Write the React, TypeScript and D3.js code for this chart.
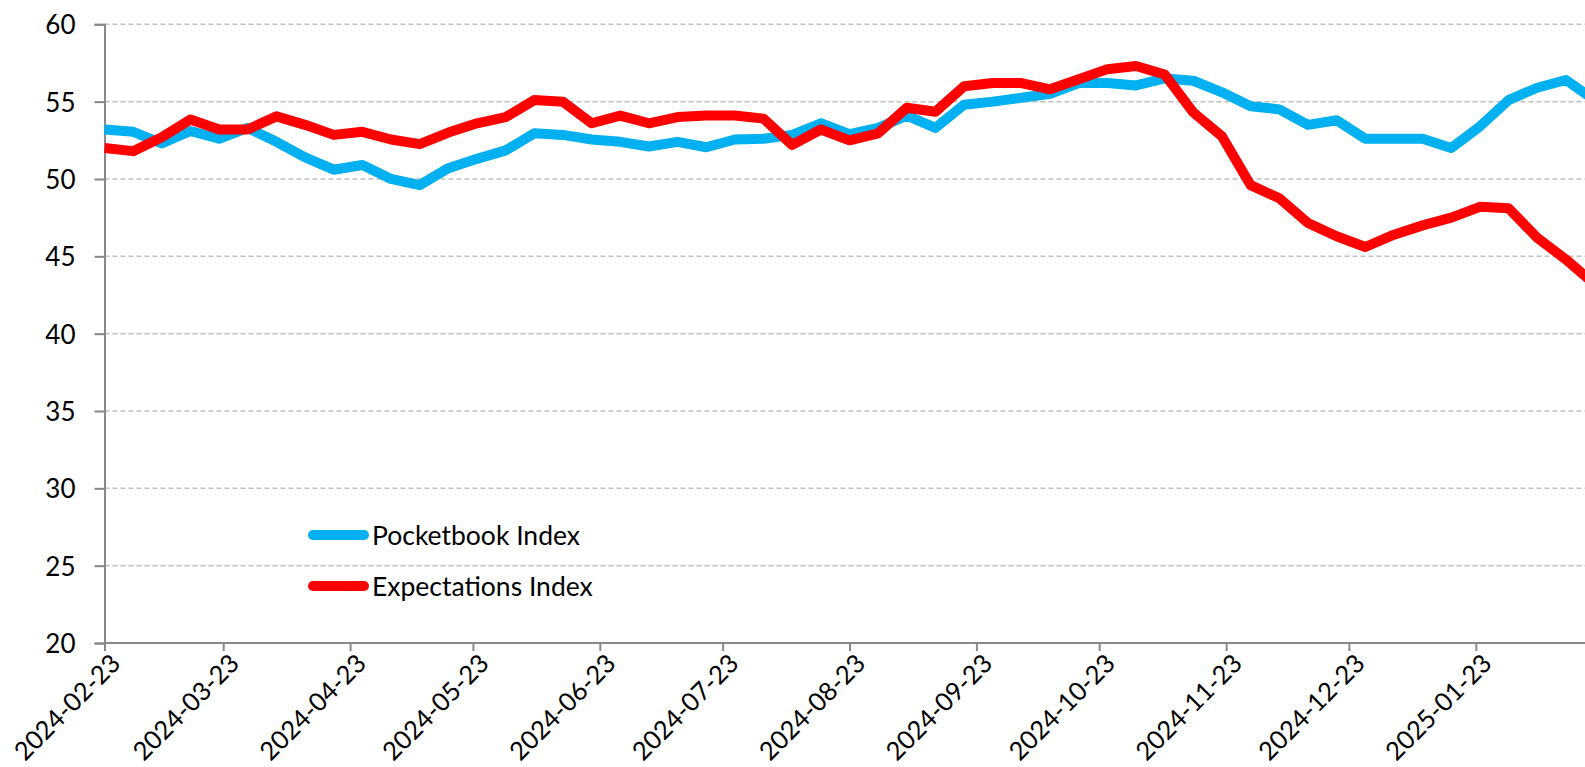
import React, { useRef, useEffect } from "react";
import * as d3 from "d3";

const dates = [
  "2024-02-23", "2024-03-01", "2024-03-08", "2024-03-15", "2024-03-22", "2024-03-29",
  "2024-04-05", "2024-04-12", "2024-04-19", "2024-04-26", "2024-05-03", "2024-05-10",
  "2024-05-17", "2024-05-24", "2024-05-31", "2024-06-07", "2024-06-14", "2024-06-21",
  "2024-06-28", "2024-07-05", "2024-07-12", "2024-07-19", "2024-07-26", "2024-08-02",
  "2024-08-09", "2024-08-16", "2024-08-23", "2024-08-30", "2024-09-06", "2024-09-13",
  "2024-09-20", "2024-09-27", "2024-10-04", "2024-10-11", "2024-10-18", "2024-10-25",
  "2024-11-01", "2024-11-08", "2024-11-15", "2024-11-22", "2024-11-29", "2024-12-06",
  "2024-12-13", "2024-12-20", "2024-12-27", "2025-01-03", "2025-01-10", "2025-01-17",
  "2025-01-24", "2025-01-31", "2025-02-07", "2025-02-14", "2025-02-21",
];

const pocketbook = [
  53.2, 53.05, 52.3, 53.1, 52.6, 53.3, 52.4, 51.4, 50.6, 50.9, 50.0, 49.6, 50.7,
  51.3, 51.85, 52.95, 52.85, 52.55, 52.4, 52.1, 52.4, 52.05, 52.55, 52.6, 52.85,
  53.6, 52.9, 53.3, 54.1, 53.3, 54.8, 55.0, 55.25, 55.5, 56.2, 56.2, 56.05, 56.5,
  56.35, 55.6, 54.7, 54.5, 53.5, 53.8, 52.6, 52.6, 52.6, 52.0, 53.4, 55.1, 55.9,
  56.4, 55.1,
];

const expectations = [
  52.0, 51.8, 52.7, 53.85, 53.2, 53.2, 54.05, 53.5, 52.85, 53.05, 52.55, 52.25, 53.0,
  53.6, 54.0, 55.1, 55.0, 53.6, 54.1, 53.6, 54.0, 54.1, 54.1, 53.9, 52.2, 53.2, 52.5,
  52.95, 54.6, 54.35, 56.0, 56.2, 56.2, 55.8, 56.45, 57.1, 57.3, 56.75, 54.3, 52.75,
  49.6, 48.75, 47.15, 46.3, 45.6, 46.4, 47.0, 47.5, 48.2, 48.1, 46.2, 44.8, 43.2,
];

const xTickLabels = [
  "2024-02-23", "2024-03-23", "2024-04-23", "2024-05-23", "2024-06-23", "2024-07-23",
  "2024-08-23", "2024-09-23", "2024-10-23", "2024-11-23", "2024-12-23", "2025-01-23",
];

const yTicks = [20, 25, 30, 35, 40, 45, 50, 55, 60];

const series = [
  { name: "Pocketbook Index", values: pocketbook, color: "#00B0F0" },
  { name: "Expectations Index", values: expectations, color: "#FF0000" },
];

const width = 1585;
const height = 767;
const font = "Lato, 'Open Sans', sans-serif";

const App = () => {
  const ref: any = useRef();

  useEffect(() => {
    const svg = d3.select(ref.current);
    svg.selectAll("*").remove();

    const parse = d3.utcParse("%Y-%m-%d");
    const left = 104.5;
    const bottom = 643;

    const xScale = d3
      .scaleUtc()
      .domain([parse("2024-02-23") as Date, parse("2025-01-23") as Date])
      .range([left, 1475.8]);

    const yScale = d3.scaleLinear().domain([20, 60]).range([bottom, 24.3]);

    // gridlines
    svg
      .append("g")
      .selectAll("line")
      .data(yTicks.filter((d) => d !== 20))
      .enter()
      .append("line")
      .attr("x1", left)
      .attr("x2", width)
      .attr("y1", (d: any) => yScale(d))
      .attr("y2", (d: any) => yScale(d))
      .attr("stroke", "#BFBFBF")
      .attr("stroke-width", 1.5)
      .attr("stroke-dasharray", "5,3");

    // y axis
    const yAxis = svg
      .append("g")
      .attr("transform", "translate(" + left + ",0)")
      .call(d3.axisLeft(yScale).tickValues(yTicks).tickSize(10).tickPadding(19));
    yAxis.select(".domain").attr("stroke", "#888888").attr("stroke-width", 2);
    yAxis.selectAll(".tick line").attr("stroke", "#888888").attr("stroke-width", 2);
    yAxis
      .selectAll(".tick text")
      .attr("font-family", font)
      .attr("font-size", 26)
      .attr("fill", "#000")
      .attr("dy", "0.36em");

    // x axis
    const tickDates = xTickLabels.map((d) => parse(d) as Date);
    const xAxis = svg
      .append("g")
      .attr("transform", "translate(0," + bottom + ")")
      .call(
        d3
          .axisBottom(xScale)
          .tickValues(tickDates)
          .tickSize(8)
          .tickSizeOuter(0)
          .tickFormat(d3.utcFormat("%Y-%m-%d") as any)
      );
    xAxis.select(".domain").attr("d", "M" + left + ",0H" + width).attr("stroke", "#888888").attr("stroke-width", 2);
    xAxis.selectAll(".tick line").attr("stroke", "#888888").attr("stroke-width", 2);
    xAxis
      .selectAll(".tick text")
      .attr("font-family", font)
      .attr("font-size", 25.5)
      .attr("fill", "#000")
      .attr("text-anchor", "end")
      .attr("dy", null)
      .attr("y", null)
      .attr("transform", "translate(17,22) rotate(-45)");

    // lines
    const line = d3
      .line<number>()
      .x((d: any, i: number) => xScale(parse(dates[i]) as Date))
      .y((d: any) => yScale(d));

    series.forEach((s) => {
      svg
        .append("path")
        .datum(s.values)
        .attr("d", line)
        .attr("fill", "none")
        .attr("stroke", s.color)
        .attr("stroke-width", 10)
        .attr("stroke-linejoin", "round")
        .attr("stroke-linecap", "butt");
    });

    // legend
    const legend = svg
      .append("g")
      .selectAll("g")
      .data(series)
      .enter()
      .append("g")
      .attr("transform", (d: any, i: number) => "translate(313," + (535 + i * 51) + ")");
    legend
      .append("line")
      .attr("x1", 0)
      .attr("x2", 51)
      .attr("stroke", (d: any) => d.color)
      .attr("stroke-width", 10)
      .attr("stroke-linecap", "round");
    legend
      .append("text")
      .attr("x", 59)
      .attr("y", 9.5)
      .attr("font-family", font)
      .attr("font-size", 26.5)
      .attr("fill", "#000")
      .text((d: any) => d.name);
  }, []);

  return (
    <div style={{ position: "absolute", left: 0, top: 0 }}>
      <svg ref={ref} width={width} height={height} style={{ display: "block", background: "#fff" }} />
    </div>
  );
};

export default App;
